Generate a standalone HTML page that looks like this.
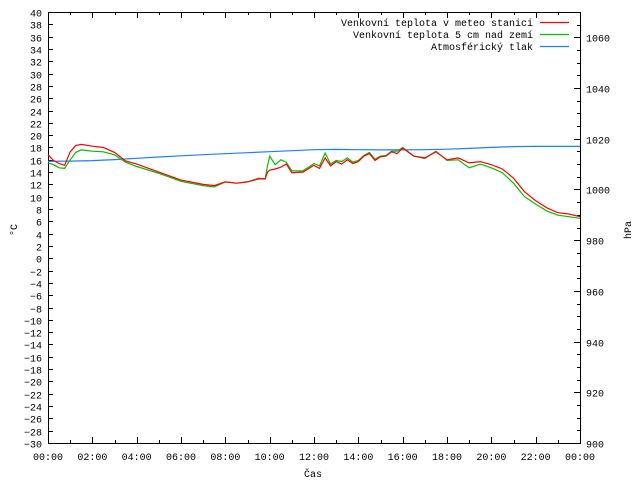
<!DOCTYPE html>
<html><head><meta charset="utf-8"><style>
body{margin:0;background:#fff}
svg text{font-family:"Liberation Mono",monospace;font-size:10px;fill:#000}
</style></head><body>
<svg id="c" width="640" height="480" xmlns="http://www.w3.org/2000/svg"></svg>
<script>
const times=[0,0.25,0.5,0.75,1,1.25,1.5,2,2.5,3,3.5,4,5,6,7,7.5,8,8.5,9,9.5,9.8,9.9,10,10.25,10.5,10.75,11,11.5,12,12.25,12.5,12.75,13,13.25,13.5,13.75,14,14.25,14.5,14.75,15,15.25,15.5,15.75,16,16.5,17,17.5,18,18.5,19,19.5,20,20.5,21,21.5,22,22.5,23,23.5,24];
const tempStation=[16.8,15.9,15.4,15.1,17.3,18.3,18.5,18.2,18.0,17.2,15.8,15.3,14.0,12.7,12.0,11.8,12.4,12.2,12.4,12.9,12.9,14.0,14.3,14.5,14.8,15.3,13.9,14.0,15.1,14.6,16.3,15.0,15.7,15.3,16.0,15.4,15.7,16.6,17.0,15.9,16.5,16.6,17.3,17.0,17.9,16.6,16.3,17.3,16.0,16.3,15.5,15.7,15.2,14.5,13.0,10.8,9.35,8.2,7.4,7.2,6.75];
const tempGround=[15.5,15.2,14.7,14.6,16.0,17.2,17.6,17.4,17.3,16.8,15.6,14.9,13.8,12.5,11.8,11.6,12.4,12.2,12.4,13.0,12.9,15.0,16.6,15.2,16.0,15.6,14.2,14.2,15.4,15.0,17.1,15.3,15.9,15.7,16.3,15.6,15.9,16.7,17.2,16.1,16.6,16.7,17.4,17.4,18.0,16.6,16.2,17.4,15.9,16.0,14.7,15.3,14.7,13.9,12.2,10.0,8.8,7.7,7.0,6.75,6.5];
const pressTimes=[0,1,2,3,4,5,6,7,8,9,10,11,12,13,14,15,16,17,18,19,20,21,22,23,24];
const pressure=[1011.1,1011.2,1011.4,1011.8,1012.3,1012.8,1013.3,1013.7,1014.1,1014.5,1014.9,1015.3,1015.7,1015.8,1015.7,1015.6,1015.6,1015.7,1015.9,1016.2,1016.6,1016.9,1017.0,1017.0,1017.0];
const xTickLabels=["00:00","02:00","04:00","06:00","08:00","10:00","12:00","14:00","16:00","18:00","20:00","22:00","00:00"];
const L=48,R=580,T=12,B=443;
const X=h=>L+(R-L)*h/24;
const Y=t=>B-(B-T)*(t+30)/70;
const YP=p=>B-(B-T)*(p-900)/170;
const svg=document.getElementById('c');
const NS="http://www.w3.org/2000/svg";
function mk(tag,attrs,txt){const e=document.createElementNS(NS,tag);for(const k in attrs)e.setAttribute(k,attrs[k]);if(txt!==undefined)e.textContent=txt;svg.appendChild(e);return e;}
let e=mk('rect',{x:L+0.5,y:T+0.5,width:R-L,height:B-T,fill:'none',stroke:'#000','stroke-width':1});


for(let v=-30;v<=40;v+=2){const y=Math.round(Y(v))+0.5;
 e=mk('line',{x1:L,x2:L+5,y1:y,y2:y,stroke:'#000'});
 
 
 e=mk('text',{x:42,y:y+4,'text-anchor':'end'},String(v).replace('-','−'));
 
 }
for(let p=900;p<=1070;p+=5){const y=Math.round(YP(p))+0.5;const maj=p%20===0;
 e=mk('line',{x1:R-(maj?6:3),x2:R,y1:y,y2:y,stroke:'#000'});
 
 
 if(maj){e=mk('text',{x:586,y:y+4},String(p));
 
 }}
for(let h=0;h<=24;h++){const x=Math.round(X(h))+0.5;const len=h%2===0?6:3;
 e=mk('line',{x1:x,x2:x,y1:B,y2:B-len,stroke:'#000'});
 
 
 e=mk('line',{x1:x,x2:x,y1:T,y2:T+len,stroke:'#000'});
 
 }
xTickLabels.forEach((s,i)=>{e=mk('text',{x:X(i*2),y:460,'text-anchor':'middle'},s);
 
 });
e=mk('text',{x:313,y:477,'text-anchor':'middle'},'Čas');


e=mk('text',{x:17,y:230,'text-anchor':'middle',transform:'rotate(-90 17 230)'},'°C');


e=mk('text',{x:631,y:230,'text-anchor':'middle',transform:'rotate(-90 631 230)'},'hPa');


function line(ts,vs,f,col,name){const pts=ts.map((t,i)=>X(t).toFixed(1)+','+f(vs[i]).toFixed(1)).join(' ');
 const el=mk('polyline',{points:pts,fill:'none',stroke:col,'stroke-width':1.2});
 
 }
line(pressTimes,pressure,YP,'#1a80ff','pressure-line');
line(times,tempGround,Y,'#00c000','temp-ground-line');
line(times,tempStation,Y,'#ff0000','temp-station-line');
const leg=[["Venkovní teplota v meteo stanici","#ff0000"],["Venkovní teplota 5 cm nad zemí","#00c000"],["Atmosférický tlak","#1a80ff"]];
leg.forEach((l,i)=>{const y=22+i*12;
 e=mk('text',{x:533,y:y+4,'text-anchor':'end'},l[0]);
 
 
 e=mk('line',{x1:540,x2:569,y1:y+0.5,y2:y+0.5,stroke:l[1],'stroke-width':1.2});
 
 });
</script>
</body></html>
